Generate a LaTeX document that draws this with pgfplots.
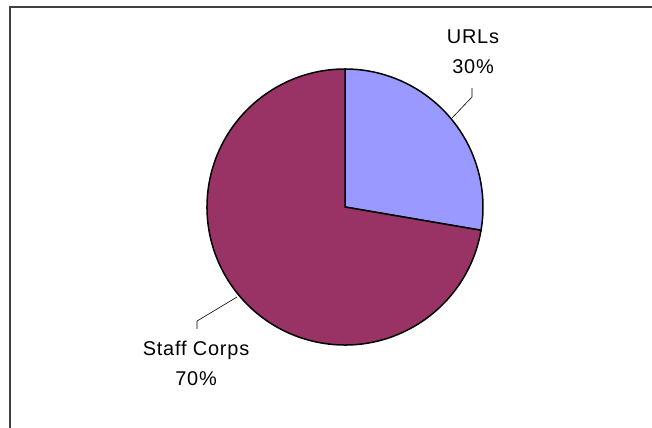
\documentclass[border=0pt]{standalone}
\usepackage{pgfplots}
\pgfplotsset{compat=1.18}
\usepackage{pgfplotstable}
\usepackage{fontspec}
\setmainfont{Liberation Sans}[LetterSpace=4]
\definecolor{urls}{HTML}{9999FF}
\definecolor{staff}{HTML}{993366}
\pgfplotstableread{
label value
URLs 27.7
Staff 72.3
}\piedata
\begin{document}
\begin{tikzpicture}
\begin{axis}[width=652bp,height=428bp,scale only axis,
  xmin=0,xmax=652,ymin=0,ymax=428,axis lines=none,clip=false]
\pgfplotstablegetelem{0}{value}\of\piedata \let\vA\pgfplotsretval
\pgfplotstablegetelem{1}{value}\of\piedata \let\vB\pgfplotsretval
\pgfmathsetmacro{\aA}{90-3.6*\vA}
\pgfmathsetmacro{\aB}{\aA-3.6*\vB}
\path[use as bounding box] (axis cs:0,0) rectangle (axis cs:652,428);
\filldraw[fill=urls,draw=black,line width=1.5bp,line join=round]
  (axis cs:345,221) -- (axis cs:345,359) arc[start angle=90,end angle=\aA,radius=138bp] -- cycle;
\filldraw[fill=staff,draw=black,line width=1.5bp,line join=round]
  (axis cs:345,221) -- ++(\aA:138bp) arc[start angle=\aA,end angle=\aB,radius=138bp] -- cycle;
\draw[line width=0.6bp] (axis cs:452,310) -- (axis cs:472,331) -- (axis cs:472,340);
\draw[line width=0.6bp] (axis cs:237,131) -- (axis cs:197,107) -- (axis cs:197,99);
\node[align=center,font=\fontsize{20}{30}\selectfont] at (axis cs:473,376) {URLs\\30\%};
\node[align=center,font=\fontsize{20}{30}\selectfont] at (axis cs:196,65) {Staff Corps\\70\%};
\draw[line width=2bp,color=black!75] (axis cs:10,0) -- (axis cs:10,421) -- (axis cs:652,421);
\end{axis}
\end{tikzpicture}
\end{document}
